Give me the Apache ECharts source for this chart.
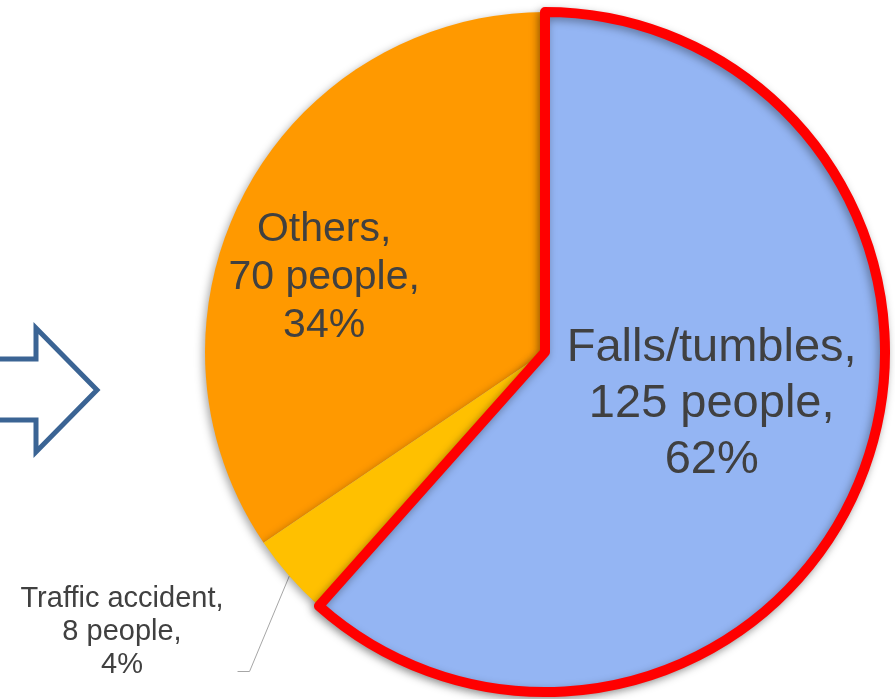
<!DOCTYPE html>
<html>
<head>
<meta charset="utf-8">
<script src="https://cdn.jsdelivr.net/npm/echarts@6/dist/echarts.min.js"></script>
<style>
html,body{margin:0;padding:0;background:#ffffff;}
#main{width:895px;height:699px;}
</style>
</head>
<body>
<div id="main"></div>
<script>
// Drawn counter-clockwise from the top so the highlighted slice is painted last
const categories = ['Others', 'Traffic accident', 'Falls/tumbles'];
const people = [70, 8, 125];
const sliceColors = ['#FF9900', '#FFC000', '#94B5F3'];
const labelFontSizes = [41, 29, 47];
const labelLineHeights = [48, 33, 56];

const FONT = '"Liberation Sans", Arial, sans-serif';
const TEXT = '#404040';

const data = categories.map(function (name, i) {
  const item = {
    name: name,
    value: people[i],
    itemStyle: { color: sliceColors[i] },
    label: { fontSize: labelFontSizes[i], lineHeight: labelLineHeights[i] }
  };
  if (i === 2) {
    item.itemStyle.borderColor = '#FF0000';
    item.itemStyle.borderWidth = 10;
    item.itemStyle.borderJoin = 'round';
  }
  if (i === 1) {
    item.label.position = 'outside';
    item.labelLine = { show: true, length: 20, length2: 10, lineStyle: { color: '#A6A6A6', width: 1 } };
  }
  return item;
});

const chart = echarts.init(document.getElementById('main'), null, { renderer: 'canvas' });
chart.setOption({
  backgroundColor: '#ffffff',
  animation: false,
  graphic: [{
    type: 'polygon',
    shape: { points: [[-10, 359], [36, 359], [36, 328], [97, 390], [36, 452], [36, 420], [-10, 420]] },
    style: { fill: '#ffffff', stroke: '#3B6494', lineWidth: 5, lineJoin: 'miter' },
    silent: true
  }],
  series: [{
    type: 'pie',
    center: [545, 352],
    radius: 340,
    startAngle: 90,
    clockwise: false,
    percentPrecision: 0,
    avoidLabelOverlap: false,
    emphasis: { disabled: true },
    label: {
      show: true,
      position: 'inside',
      formatter: '{b},\n{c} people,\n{d}%',
      color: TEXT,
      fontFamily: FONT,
      align: 'center'
    },
    labelLine: { show: false },
    itemStyle: {
      shadowBlur: 8,
      shadowColor: 'rgba(0,0,0,0.35)',
      shadowOffsetX: -2,
      shadowOffsetY: 3
    },
    labelLayout: function (p) {
      const r = p.labelRect;
      const cx = r.x + r.width / 2, cy = r.y + r.height / 2;
      if (p.dataIndex === 2) {
        return { x: cx + 5, y: cy - 9, align: 'center', verticalAlign: 'middle' };
      }
      if (p.dataIndex === 0) {
        return { x: cx - 68, y: cy + 7, align: 'center', verticalAlign: 'middle' };
      }
      if (p.dataIndex === 1) {
        const tx = 122, ty = 632;
        const right = tx + r.width / 2;
        const lineY = ty + r.height / 2 - 10;
        const start = p.labelLinePoints ? p.labelLinePoints[0] : [cx, cy];
        return {
          x: tx, y: ty, align: 'center', verticalAlign: 'middle',
          labelLinePoints: [start, [right + 26, lineY], [right + 14, lineY]]
        };
      }
    },
    data: data
  }]
});
</script>
</body>
</html>
